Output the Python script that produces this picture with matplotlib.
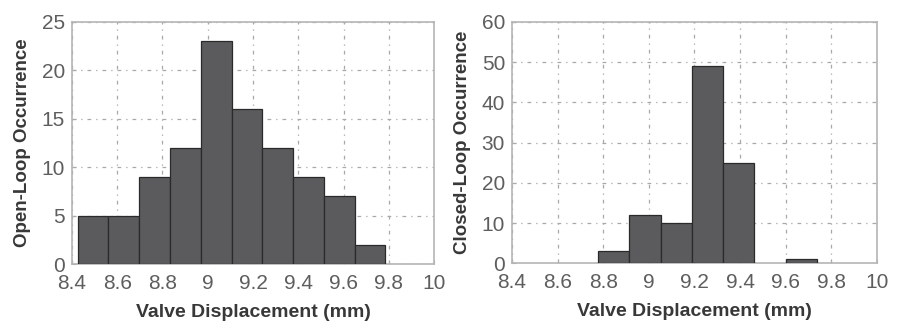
import matplotlib
matplotlib.use("Agg")
import matplotlib.pyplot as plt
import numpy as np

plt.rcParams['font.family'] = ['Liberation Sans', 'DejaVu Sans']

# Open-loop histogram (bin edges and counts)
open_edges = [8.425, 8.561, 8.697, 8.833, 8.969, 9.105, 9.241, 9.377, 9.513, 9.649, 9.785]
open_counts = [5, 5, 9, 12, 23, 16, 12, 9, 7, 2]

# Closed-loop histogram
closed_edges = [8.504, 8.641, 8.778, 8.915, 9.052, 9.189, 9.326, 9.463, 9.600, 9.737]
closed_counts = [0, 0, 3, 12, 10, 49, 25, 0, 1]

xticks = [8.4, 8.6, 8.8, 9.0, 9.2, 9.4, 9.6, 9.8, 10.0]
xticklabels = ['8.4', '8.6', '8.8', '9', '9.2', '9.4', '9.6', '9.8', '10']
xlabel = 'Valve Displacement (mm)'

fig = plt.figure(figsize=(9.03, 3.22), dpi=100)
ax1 = fig.add_axes([0.0797, 0.180, 0.401, 0.752])
ax2 = fig.add_axes([0.567, 0.182, 0.404, 0.750])

bar_color = '#5b5b5d'
edge_color = '#2a2a2a'
tick_color = '#5e5e5e'
label_color = '#383838'

def style(ax, edges, counts, ymax, ystep, ylabel):
    e = np.array(edges)
    c = np.array(counts)
    widths = np.diff(e)
    mask = c > 0
    ax.bar(e[:-1][mask], c[mask], width=widths[mask], align='edge',
           color=bar_color, edgecolor=edge_color, linewidth=0.9, zorder=3)
    ax.set_xlim(8.4, 10.0)
    ax.set_ylim(0, ymax)
    ax.set_xticks(xticks)
    ax.set_xticklabels(xticklabels)
    ax.set_yticks(np.arange(0, ymax + 1, ystep))
    ax.grid(True, linestyle=(0, (3, 4, 1, 4)), color='#a8a8a8', linewidth=0.9, zorder=0)
    ax.tick_params(direction='in', length=3, width=0.8, colors='#aaaaaa',
                   labelcolor=tick_color, labelsize=15)
    ax.tick_params(axis='x', pad=7)
    ax.tick_params(axis='y', pad=5)
    for s in ax.spines.values():
        s.set_color('#b5b5b5')
        s.set_linewidth(1.2)
    ax.set_xlabel(xlabel, fontsize=14, fontweight='bold', color=label_color, labelpad=8)
    ax.set_ylabel(ylabel, fontsize=13.5, fontweight='bold', color=label_color, labelpad=8)

style(ax1, open_edges, open_counts, 25, 5, 'Open-Loop Occurrence')
style(ax2, closed_edges, closed_counts, 60, 10, 'Closed-Loop Occurrence')

fig.savefig('out.png', dpi=100)
